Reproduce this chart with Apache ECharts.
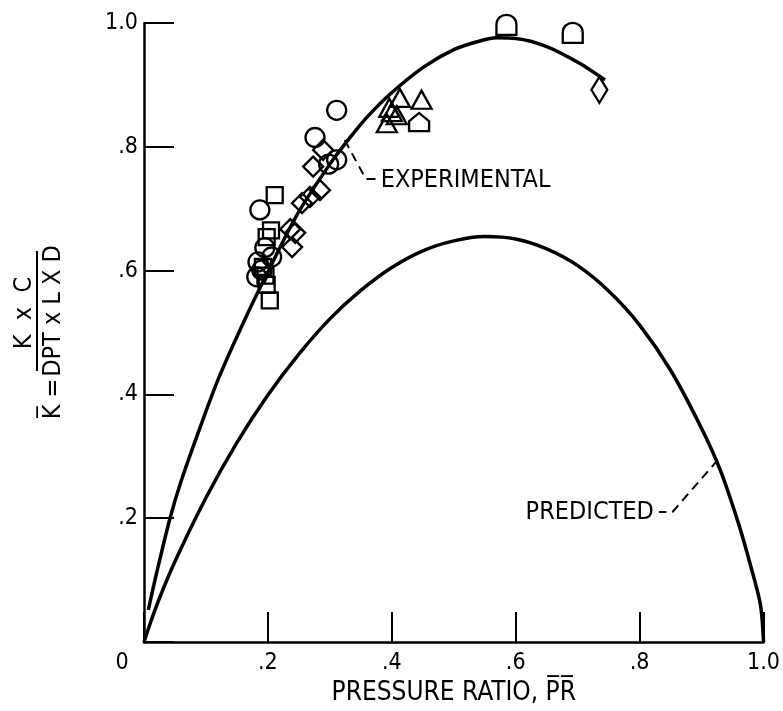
<!DOCTYPE html>
<html>
<head>
<meta charset="UTF-8">
<title>K vs pressure ratio</title>
<script type="text/javascript" src="https://cdn.jsdelivr.net/npm/echarts/dist/echarts.min.js"></script>
<style>
html,body{margin:0;padding:0;background:#fff;}
#box{width:783px;height:711px;}
</style>
</head>
<body>
<div id="box"></div>

<script type="text/javascript">
// tick values and their printed labels
var xTicks = [0, 0.2, 0.4, 0.6, 0.8, 1.0];
var xTickText = ['0', '.2', '.4', '.6', '.8', '1.0'];
var yTicks = [0, 0.2, 0.4, 0.6, 0.8, 1.0];
var yTickText = ['', '.2', '.4', '.6', '.8', '1.0'];

// experimental curve
var expX = [0.007, 0.02, 0.042, 0.06, 0.09, 0.12, 0.16, 0.2, 0.247, 0.3, 0.335, 0.36, 0.397, 0.45, 0.5, 0.542, 0.57, 0.6, 0.65, 0.703, 0.744];
var expY = [0.052, 0.11, 0.2, 0.26, 0.345, 0.425, 0.515, 0.598, 0.69, 0.772, 0.818, 0.848, 0.885, 0.928, 0.957, 0.971, 0.976, 0.975, 0.962, 0.935, 0.908];

// predicted curve
var predX = [0, 0.02, 0.05, 0.1, 0.15, 0.2, 0.25, 0.3, 0.35, 0.4, 0.45, 0.5, 0.55, 0.6, 0.65, 0.7, 0.75, 0.8, 0.85, 0.9, 0.93, 0.96, 0.98, 0.995, 1.0];
var predY = [0, 0.058, 0.13, 0.233, 0.322, 0.399, 0.465, 0.522, 0.568, 0.605, 0.632, 0.648, 0.655, 0.651, 0.635, 0.608, 0.567, 0.512, 0.439, 0.345, 0.278, 0.19, 0.12, 0.06, 0];

// test points, one list per symbol
var circles = [[0.311, 0.859], [0.276, 0.815], [0.311, 0.779], [0.298, 0.772], [0.187, 0.698],
               [0.195, 0.637], [0.206, 0.622], [0.184, 0.614], [0.19, 0.601], [0.182, 0.59]];
var squares = [[0.211, 0.722], [0.198, 0.654], [0.205, 0.665], [0.192, 0.606], [0.196, 0.592],
               [0.198, 0.577], [0.203, 0.552]];
var diamonds = [[0.289, 0.795], [0.273, 0.768], [0.284, 0.73], [0.268, 0.719], [0.255, 0.709],
                [0.236, 0.667], [0.244, 0.661], [0.239, 0.638]];
var triangles = [[0.413, 0.879], [0.448, 0.876], [0.4, 0.856], [0.408, 0.851], [0.392, 0.838], [0.396, 0.863]];
var houses = [[0.444, 0.84]];
var dees = [[0.585, 0.997], [0.692, 0.984]];
var tallDiamonds = [[0.735, 0.892]];

// callout leaders and their texts
var expLeader = [[0.324, 0.811], [0.358, 0.748], [0.374, 0.748]];
var predLeader = [[0.926, 0.294], [0.853, 0.21], [0.831, 0.21]];
var expNote = [0.382, 0.746];
var predNote = [0.823, 0.21];

function zip(xs, ys) {
  var out = [];
  for (var i = 0; i < xs.length; i++) out.push([xs[i], ys[i]]);
  return out;
}

var txtFont = '"DejaVu Sans Condensed", "DejaVu Sans", sans-serif';

function pts(name, data, symbol, size) {
  return {
    name: name,
    type: 'scatter',
    data: data,
    symbol: symbol,
    symbolSize: size,
    itemStyle: {color: 'rgba(0,0,0,0)', borderColor: '#000', borderWidth: 2.3, opacity: 1},
    z: 3
  };
}

var mychart = echarts.init(document.getElementById('box'));

mychart.setOption({
  animation: false,
  backgroundColor: '#fff',
  grid: {left: 144, right: 18, top: 23, bottom: 69},
  xAxis: {
    type: 'value', min: 0, max: 1, interval: 0.2,
    name: 'PRESSURE RATIO, P\u0305R\u0305',
    nameLocation: 'middle', nameGap: 35,
    nameTextStyle: {fontFamily: txtFont, fontSize: 26, color: '#000'},
    axisLine: {lineStyle: {color: '#000', width: 2.5}},
    axisTick: {inside: true, length: 30, lineStyle: {color: '#000', width: 2}},
    splitLine: {show: false},
    axisLabel: {
      margin: 10, color: '#000', fontFamily: txtFont, fontSize: 23,
      formatter: function (v) {
        var i = xTicks.indexOf(Math.round(v * 10) / 10);
        if (i === 0) return '{z|' + xTickText[0] + '}';
        return i < 0 ? '' : xTickText[i];
      },
      rich: {z: {fontFamily: txtFont, fontSize: 23, color: '#000', padding: [0, 44, 0, 0]}}
    }
  },
  yAxis: {
    type: 'value', min: 0, max: 1, interval: 0.2,
    axisLine: {show: true, lineStyle: {color: '#000', width: 2.5}},
    axisTick: {show: true, inside: true, length: 30, lineStyle: {color: '#000', width: 2}},
    splitLine: {show: false},
    axisLabel: {
      margin: 6, color: '#000', fontFamily: txtFont, fontSize: 23,
      formatter: function (v) {
        var i = yTicks.indexOf(Math.round(v * 10) / 10);
        return i < 0 ? '' : yTickText[i];
      }
    }
  },
  graphic: [{
    // y axis title, a fraction turned on its side
    type: 'group', x: 38, y: 335, rotation: Math.PI / 2,
    children: [
      {type: 'line', shape: {x1: -36, y1: -1, x2: 84, y2: -1}, style: {stroke: '#000', lineWidth: 2}},
      {type: 'text', x: 22, y: -14, style: {text: 'K  x  C', font: '25px ' + txtFont, fill: '#000', align: 'center', verticalAlign: 'middle'}},
      {type: 'text', x: 24, y: 15, style: {text: 'DPT x L X D', font: '25px ' + txtFont, fill: '#000', align: 'center', verticalAlign: 'middle'}},
      {type: 'text', x: -64, y: 15, style: {text: 'K\u0305 =', font: '25px ' + txtFont, fill: '#000', align: 'center', verticalAlign: 'middle'}}
    ]
  }],
  series: [{
    name: 'experimental',
    type: 'line',
    data: zip(expX, expY),
    smooth: 0.3,
    showSymbol: false,
    lineStyle: {color: '#000', width: 3.5},
    z: 2
  }, {
    name: 'predicted',
    type: 'line',
    data: zip(predX, predY),
    smooth: 0.3,
    showSymbol: false,
    lineStyle: {color: '#000', width: 3.5},
    z: 2
  }, {
    name: 'expLeader',
    type: 'line',
    data: expLeader,
    showSymbol: false,
    lineStyle: {color: '#000', width: 2, type: [9, 6]}
  }, {
    name: 'predLeader',
    type: 'line',
    data: predLeader,
    showSymbol: false,
    lineStyle: {color: '#000', width: 2, type: [9, 6]}
  }, {
    name: 'notes',
    type: 'scatter',
    symbolSize: 0,
    silent: true,
    itemStyle: {opacity: 1},
    data: [
      {value: expNote, name: 'EXPERIMENTAL', label: {position: 'right'}},
      {value: predNote, name: 'PREDICTED', label: {position: 'left'}}
    ],
    label: {show: true, distance: 0, formatter: '{b}', fontFamily: txtFont, fontSize: 25, color: '#000', opacity: 1}
  },
    pts('circles', circles, 'circle', 19),
    pts('squares', squares, 'rect', 16),
    pts('diamonds', diamonds, 'diamond', 20),
    pts('triangles', triangles, 'triangle', [20, 18]),
    pts('houses', houses, 'path://M0,20 L0,9 L10,0 L20,9 L20,20 Z', [20, 18]),
    pts('dees', dees, 'path://M0,20 L0,10 C0,-3 20,-3 20,10 L20,20 Z', [20, 20]),
    pts('tallDiamonds', tallDiamonds, 'diamond', [16, 26])
  ]
});
</script>
</body>
</html>
